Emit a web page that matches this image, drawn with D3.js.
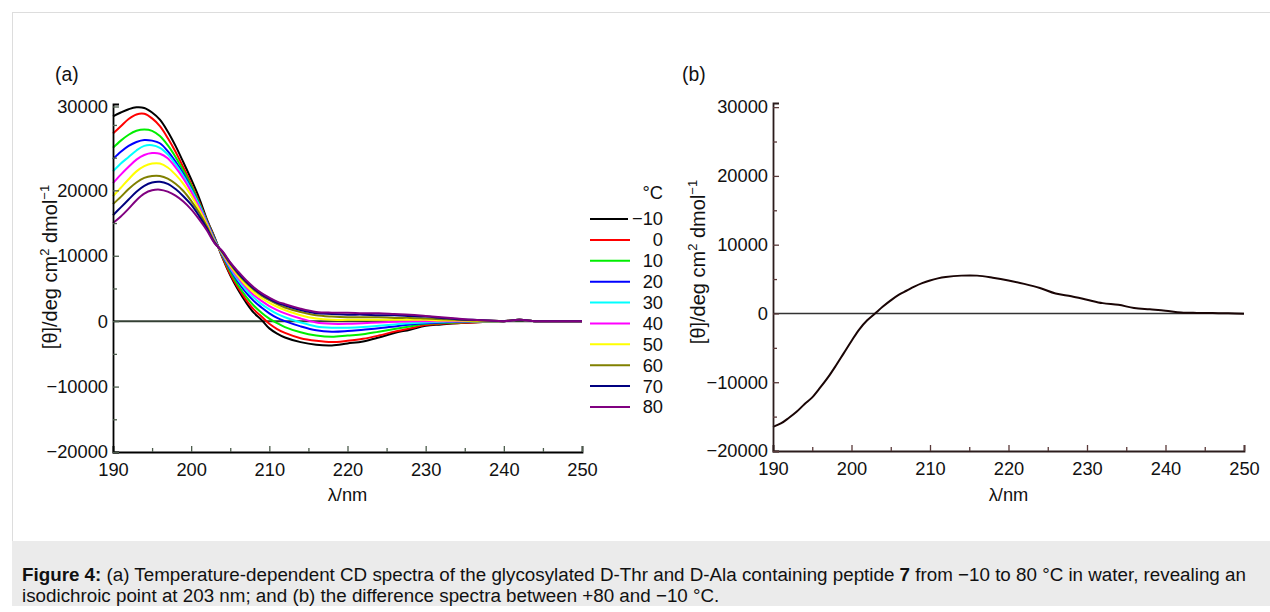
<!DOCTYPE html>
<html>
<head>
<meta charset="utf-8">
<script src="https://cdn.jsdelivr.net/npm/d3@7"></script>
<style>
  html, body { margin: 0; padding: 0; background: #fff; }
  svg { display: block; font-family: "Liberation Sans", Arial, sans-serif; }
</style>
</head>
<body>
<div id="chart"></div>
<script>
// wavelength grid (nm) shared by both panels
const wavelengths = [190, 191, 192, 193, 194, 195, 196, 197, 198, 199, 200, 201, 202, 203, 204, 205, 206, 207, 208, 209, 210, 211, 212,
  214, 216, 218, 220, 222, 224, 226, 228, 230, 232, 234, 236, 238, 240, 242, 244, 246, 248, 250];

// panel (a): one spectrum per temperature
const temperatures = ['\u221210', '0', '10', '20', '30', '40', '50', '60', '70', '80'];
const seriesColors = ['#000000', '#ff0000', '#00ee00', '#0000ff', '#00ffff', '#ff00ff', '#ffff00', '#808000', '#000080', '#800080'];

const tempM10 = [31300, 31900, 32400, 32700, 32600, 31900, 30800, 29000, 26800, 24300, 21700, 18900, 15600, 12800, 9700, 7000, 4800, 2900, 1300, 200, -1100, -1900, -2500,
  -3200, -3600, -3700, -3400, -3100, -2500, -1800, -1300, -700, -500, -300, -200, -100, 0, 200, 0, 0, 0, 0];
const temp0 = [28700, 29800, 30900, 31600, 31700, 31000, 29800, 28000, 25900, 23500, 21000, 18300, 15400, 12700, 9800, 7200, 5100, 3300, 1800, 700, -400, -1200, -1800,
  -2600, -3000, -3200, -3000, -2700, -2200, -1600, -1100, -600, -400, -300, -200, -100, 0, 200, 0, 0, 0, 0];
const temp10 = [26500, 27600, 28500, 29100, 29300, 29100, 28300, 26900, 25100, 23000, 20700, 18100, 15300, 12600, 10000, 7600, 5500, 3800, 2400, 1300, 400, -300, -900,
  -1700, -2200, -2400, -2200, -2000, -1600, -1200, -800, -400, -300, -200, -100, -100, 0, 200, 0, 0, 0, 0];
const temp20 = [24800, 25900, 26800, 27400, 27700, 27600, 27200, 26000, 24400, 22500, 20300, 17900, 15200, 12500, 10100, 7900, 6000, 4400, 3100, 2100, 1200, 500, 0,
  -800, -1400, -1600, -1500, -1300, -1100, -800, -500, -300, -200, -100, 0, 0, 0, 200, 0, 0, 0, 0];
const temp30 = [22900, 24100, 25100, 26100, 26800, 26900, 26500, 25500, 24000, 22200, 20100, 17800, 15100, 12400, 10200, 8100, 6300, 4800, 3600, 2600, 1800, 1100, 600,
  -200, -800, -1000, -1000, -900, -700, -500, -300, -200, -100, 0, 0, 0, 0, 200, 0, 0, 0, 0];
const temp40 = [21100, 22400, 23600, 24700, 25400, 25700, 25600, 24900, 23500, 21800, 19800, 17500, 15000, 12300, 10300, 8300, 6600, 5200, 4000, 3100, 2300, 1700, 1200,
  400, -200, -400, -400, -300, -200, -100, 0, 0, 0, 0, 0, 0, 0, 200, 0, 0, 0, 0];
const temp50 = [19100, 20400, 21700, 22900, 23700, 24100, 24100, 23500, 22400, 21000, 19200, 17100, 14800, 12200, 10400, 8500, 6900, 5500, 4400, 3500, 2800, 2200, 1700,
  900, 400, 200, 200, 200, 200, 200, 200, 200, 100, 100, 0, 0, 0, 200, 0, 0, 0, 0];
const temp60 = [17900, 19000, 20200, 21200, 21900, 22200, 22200, 21800, 21000, 19900, 18400, 16600, 14500, 12100, 10500, 8700, 7200, 5900, 4800, 3900, 3200, 2600, 2100,
  1400, 900, 700, 600, 600, 600, 500, 500, 400, 300, 200, 100, 100, 0, 200, 0, 0, 0, 0];
const temp70 = [16200, 17400, 18600, 19800, 20700, 21200, 21300, 21000, 20200, 19100, 17800, 16100, 14200, 12000, 10600, 8900, 7400, 6100, 5000, 4100, 3400, 2800, 2400,
  1700, 1200, 1100, 1000, 1000, 900, 900, 800, 700, 500, 300, 200, 100, 0, 200, 0, 0, 0, 0];
const temp80 = [15000, 16000, 17200, 18500, 19500, 20000, 20100, 19800, 19200, 18300, 17100, 15600, 13900, 11900, 10700, 9000, 7600, 6300, 5200, 4300, 3600, 3000, 2600,
  1900, 1400, 1300, 1300, 1200, 1200, 1100, 1000, 800, 600, 400, 200, 100, 0, 200, 0, 0, 0, 0];
const panelASeries = [tempM10, temp0, temp10, temp20, temp30, temp40, temp50, temp60, temp70, temp80];

// panel (b): difference spectrum
const difference = [-16500, -16000, -15200, -14300, -13200, -12200, -10800, -9300, -7600, -5800, -4000, -2300, -1000, 0, 1000, 1900, 2700, 3300, 3900, 4400, 4800, 5100, 5300,
  5500, 5500, 5200, 4800, 4300, 3700, 2900, 2500, 2000, 1500, 1250, 800, 600, 400, 150, 80, 50, 30, -50];

// ticks
const xTicks = [190, 200, 210, 220, 230, 240, 250];
const xMinorTicks = [195, 205, 215, 225, 235, 245];
const yTicksA = [-20000, -10000, 0, 10000, 20000];
const yMinorTicksA = [-15000, -5000, 5000, 15000, 25000, 30000];
const yTopLabelA = '30000'; // in the original this label sits at the top end of the axis
const yTicksB = [-20000, -10000, 0, 10000, 20000, 30000];
const yMinorTicksB = [-15000, -5000, 5000, 15000, 25000];

const caption1 = ['Figure 4:', ' (a) Temperature-dependent CD spectra of the glycosylated D-Thr and D-Ala containing peptide ', '7', ' from \u221210 to 80 \u00b0C in water, revealing an'];
const caption2 = 'isodichroic point at 203 nm; and (b) the difference spectra between +80 and \u221210 \u00b0C.';

const W = 1270, H = 612;
const FONT = 18.3;
const fmt = d3.format('d');

const svg = d3.select('#chart').append('svg')
  .attr('width', W)
  .attr('height', H);

svg.append('rect').attr('width', W).attr('height', H).attr('fill', '#fff');

// page frame + caption box
svg.append('line').attr('x1', 12).attr('x2', W).attr('y1', 12.5).attr('y2', 12.5).attr('stroke', '#dddddd');
svg.append('line').attr('x1', 12.5).attr('x2', 12.5).attr('y1', 12).attr('y2', 541).attr('stroke', '#dddddd');
svg.append('rect').attr('x', 12).attr('y', 541).attr('width', W - 12).attr('height', 65).attr('fill', '#ebebeb');

const cap = svg.append('text').attr('x', 22).attr('y', 581).attr('font-size', 18.8).attr('fill', '#111');
caption1.forEach((t, i) => {
  cap.append('tspan').attr('font-weight', (i === 0 || i === 2) ? 'bold' : 'normal').text(t);
});
svg.append('text').attr('x', 22).attr('y', 602).attr('font-size', 18.8).attr('fill', '#111').text(caption2);

/**
 * Draws one panel: axes, zero line and curves
 */
function drawPanel(opts) {
  const g = svg.append('g');
  const x = d3.scaleLinear().domain([190, 250]).range(opts.xRange);
  const y = d3.scaleLinear().domain(opts.yDomain).range(opts.yRange);
  const x0 = opts.xRange[0], x1 = opts.xRange[1];
  const yBottom = opts.yRange[0];

  // zero line
  g.append('line')
    .attr('x1', x0).attr('x2', x1)
    .attr('y1', y(0)).attr('y2', y(0))
    .attr('stroke', opts.zeroColor).attr('stroke-width', opts.zeroWidth);

  // curves
  const line = d3.line()
    .x((d, i) => x(wavelengths[i]))
    .y(d => y(d))
    .curve(d3.curveCatmullRom);

  opts.series.forEach((s, i) => {
    g.append('path')
      .datum(s)
      .attr('d', line)
      .attr('fill', 'none')
      .attr('stroke', opts.colors[i])
      .attr('stroke-width', 2)
      .attr('stroke-linejoin', 'round');
  });

  // x axis: major ticks + labels, minor ticks (all inward)
  const xAxis = g.append('g')
    .attr('transform', `translate(0,${yBottom})`)
    .call(d3.axisBottom(x).tickValues(xTicks).tickSize(-6).tickPadding(8).tickFormat(fmt));
  g.append('g')
    .attr('transform', `translate(0,${yBottom})`)
    .call(d3.axisBottom(x).tickValues(xMinorTicks).tickSize(-4).tickFormat(''))
    .call(a => a.select('.domain').remove());

  // y axis
  const yAxis = g.append('g')
    .attr('transform', `translate(${x0},0)`)
    .call(d3.axisLeft(y).tickValues(opts.yTicks).tickSize(-6).tickPadding(5).tickFormat(fmt));
  g.append('g')
    .attr('transform', `translate(${x0},0)`)
    .call(d3.axisLeft(y).tickValues(opts.yMinor).tickSize(-4).tickFormat(''))
    .call(a => a.select('.domain').remove());

  [xAxis, yAxis].forEach(a => {
    a.select('.domain').attr('stroke', opts.axisColor).attr('stroke-width', 1.8);
    a.selectAll('.tick text').attr('font-size', FONT).attr('fill', '#111')
      .attr('font-family', '"Liberation Sans", Arial, sans-serif');
  });
  g.selectAll('.tick line').attr('stroke', opts.tickColor).attr('stroke-width', 1.3);
  xAxis.selectAll('.tick text').attr('dy', '0.85em');

  // axis titles
  g.append('text')
    .attr('x', (x0 + x1) / 2).attr('y', 501)
    .attr('text-anchor', 'middle').attr('font-size', FONT).attr('fill', '#111')
    .text('\u03bb/nm');

  const yt = g.append('text')
    .attr('transform', `translate(${opts.yTitleX},${opts.yTitleY}) rotate(-90)`)
    .attr('text-anchor', 'middle').attr('font-size', 20).attr('fill', '#111');
  yt.append('tspan').text('[\u03b8]/deg cm');
  yt.append('tspan').attr('font-size', 13).attr('dy', -8).text('2');
  yt.append('tspan').attr('dy', 8).text(' dmol');
  yt.append('tspan').attr('font-size', 13).attr('dy', -8).text('\u22121');

  // panel letter
  g.append('text')
    .attr('x', opts.letterX).attr('y', 81)
    .attr('font-size', FONT + 1).attr('fill', '#111')
    .text(opts.letter);

  return { g, x, y };
}

// (a)
const pa = drawPanel({
  letter: '(a)', letterX: 55,
  xRange: [113, 582],
  yDomain: [-20000, 33200], yRange: [452, 104],
  yTicks: yTicksA, yMinor: yMinorTicksA,
  series: panelASeries, colors: seriesColors,
  zeroColor: '#344034', zeroWidth: 2, axisColor: '#000', tickColor: '#4d5d4d',
  yTitleX: 57, yTitleY: 267
});

// extra labelled tick at the axis top, as in the figure
const yTopA = pa.y.range()[1] + 3;
pa.g.append('line').attr('x1', 113).attr('x2', 119).attr('y1', yTopA).attr('y2', yTopA)
  .attr('stroke', '#4d5d4d').attr('stroke-width', 1.3);
pa.g.append('text').attr('x', 108).attr('y', yTopA).attr('dy', '0.32em')
  .attr('text-anchor', 'end').attr('font-size', FONT).attr('fill', '#111').text(yTopLabelA);

// legend for (a)
const legend = svg.append('g');
const legendY = d3.scalePoint().domain(temperatures).range([219, 407]);
legend.append('text').attr('x', 663).attr('y', legendY(temperatures[0]) - 26).attr('dy', '0.35em')
  .attr('text-anchor', 'end').attr('font-size', FONT).attr('fill', '#111').text('\u00b0C');
temperatures.forEach((t, i) => {
  legend.append('line')
    .attr('x1', 590).attr('x2', i === 0 ? 628 : 630)
    .attr('y1', legendY(t)).attr('y2', legendY(t))
    .attr('stroke', seriesColors[i]).attr('stroke-width', 2);
  legend.append('text')
    .attr('x', 663).attr('y', legendY(t)).attr('dy', '0.35em')
    .attr('text-anchor', 'end').attr('font-size', FONT).attr('fill', '#111')
    .text(t);
});

// (b)
drawPanel({
  letter: '(b)', letterX: 682,
  xRange: [773, 1244],
  yDomain: [-20000, 30600], yRange: [451, 103],
  yTicks: yTicksB, yMinor: yMinorTicksB,
  series: [difference], colors: ['#1a0505'],
  zeroColor: '#333', zeroWidth: 1.6, axisColor: '#2b1c1c', tickColor: '#5a3a3a',
  yTitleX: 705, yTitleY: 262
});
</script>
</body>
</html>
